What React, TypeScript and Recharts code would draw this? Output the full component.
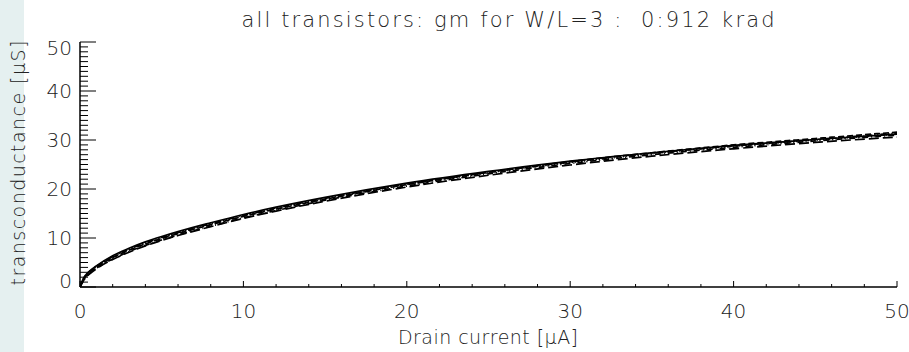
import React from "react";
import { LineChart, Line, XAxis, YAxis } from "recharts";

const current = [0, 0.25, 0.5, 1, 2, 3, 4, 5, 6, 8, 10, 12, 15, 20, 25, 30, 35, 40, 45, 50];
const gmSolid = [0, 2.0, 3.0, 4.3, 6.4, 7.9, 9.2, 10.3, 11.3, 13.1, 14.8, 16.3, 18.3, 21.2, 23.6, 25.7, 27.4, 28.9, 30.1, 31.2];
const gmDash = [0, 1.7, 2.7, 4.0, 6.0, 7.5, 8.8, 9.9, 10.9, 12.7, 14.4, 15.9, 17.9, 20.9, 23.4, 25.6, 27.4, 29.0, 30.3, 31.6];
const gmDashDot = [0, 1.6, 2.5, 3.8, 5.7, 7.2, 8.5, 9.6, 10.6, 12.4, 14.1, 15.6, 17.7, 20.6, 23.1, 25.2, 27.0, 28.5, 29.8, 31.0];
const gmDot = [0, 1.8, 2.8, 4.1, 6.1, 7.6, 8.9, 10.0, 11.0, 12.8, 14.5, 16.0, 18.0, 20.9, 23.3, 25.4, 27.2, 28.7, 30.0, 31.2];
const gmLongDash = [0, 1.5, 2.4, 3.7, 5.6, 7.1, 8.4, 9.5, 10.5, 12.3, 14.0, 15.5, 17.5, 20.4, 22.8, 24.9, 26.7, 28.2, 29.5, 30.6];
const gmDashDotDot = [0, 1.9, 2.9, 4.2, 6.2, 7.7, 9.0, 10.1, 11.1, 12.9, 14.6, 16.1, 18.1, 21.0, 23.4, 25.5, 27.3, 28.8, 30.1, 31.4];

const xTicks = Array.from({ length: 26 }, (_, i) => i * 2);
const yTicks = Array.from({ length: 51 }, (_, i) => i);

const seriesDefs = [
  { key: "s1", values: gmSolid, dash: undefined },
  { key: "s2", values: gmDash, dash: "6 3" },
  { key: "s3", values: gmDashDot, dash: "6 3 1 3" },
  { key: "s4", values: gmDot, dash: "1 2" },
  { key: "s5", values: gmLongDash, dash: "10 4" },
  { key: "s6", values: gmDashDotDot, dash: "6 2 1 2 1 2" },
];

const data = current.map((c, i) => {
  const row: Record<string, number> = { I: c };
  seriesDefs.forEach((s) => (row[s.key] = s.values[i]));
  return row;
});

const FONT = "'DejaVu Sans', sans-serif";
const TXT = "#222";

const BottomTick = (props: any) => {
  const { x, y, payload } = props;
  const v = payload.value;
  const major = v % 10 === 0;
  return (
    <g>
      <line x1={x} x2={x} y1={y} y2={y - (major ? 6 : 3)} stroke="#000" strokeWidth={1} />
      {major && (
        <text x={x} y={y + 25} textAnchor="middle" dominantBaseline="middle" fontFamily={FONT} fontSize={20} fill={TXT} fontWeight={300}>
          {v}
        </text>
      )}
    </g>
  );
};

const TopTick = (props: any) => {
  const { x, y, payload } = props;
  const major = payload.value % 10 === 0;
  return <line x1={x} x2={x} y1={y} y2={y + (major ? 6 : 3)} stroke="#000" strokeWidth={1} />;
};

const LeftTick = (props: any) => {
  const { x, y, payload } = props;
  const v = payload.value;
  const major = v % 10 === 0;
  const dy = v === 0 ? -5 : v === 50 ? 7 : 1;
  return (
    <g>
      <line x1={x} x2={x + (major ? 16 : 8)} y1={y} y2={y} stroke="#000" strokeWidth={1} />
      {major && (
        <text x={x - 8} y={y + dy} textAnchor="end" dominantBaseline="middle" fontFamily={FONT} fontSize={20} fill={TXT} fontWeight={300}>
          {v}
        </text>
      )}
    </g>
  );
};

const RightTick = (props: any) => {
  const { x, y, payload } = props;
  const major = payload.value % 10 === 0;
  return <line x1={x} x2={x - (major ? 16 : 8)} y1={y} y2={y} stroke="#000" strokeWidth={1} />;
};

export default function App() {
  return (
    <div style={{ position: "absolute", left: 0, top: 0, width: 909, height: 352, background: "#fff", overflow: "hidden" }}>
      <div style={{ position: "absolute", left: 0, top: 0, width: 24, height: 352, background: "#e5f0f0" }} />
      <div style={{ position: "absolute", left: 0, top: 0 }}>
        <LineChart width={909} height={352} data={data} margin={{ top: 42, right: 12, bottom: 35, left: 30 }}>
          <XAxis
            xAxisId={0}
            dataKey="I"
            type="number"
            domain={[0, 50]}
            ticks={xTicks}
            interval={0}
            height={30}
            tickSize={0}
            tickMargin={0}
            tickLine={false}
            axisLine={{ stroke: "#000", strokeWidth: 1.5 }}
            tick={<BottomTick />}
            allowDataOverflow
          />
          <XAxis
            xAxisId="top"
            orientation="top"
            dataKey="I"
            type="number"
            domain={[0, 50]}
            ticks={xTicks}
            interval={0}
            height={0}
            tickSize={0}
            tickMargin={0}
            tickLine={false}
            axisLine={{ stroke: "#000", strokeWidth: 1 }}
            tick={<TopTick />}
          />
          <YAxis
            yAxisId={0}
            type="number"
            domain={[0, 50]}
            ticks={yTicks}
            interval={0}
            width={50}
            tickSize={0}
            tickMargin={0}
            tickLine={false}
            axisLine={{ stroke: "#000", strokeWidth: 1.5 }}
            tick={<LeftTick />}
            allowDataOverflow
          />
          <YAxis
            yAxisId="right"
            orientation="right"
            type="number"
            domain={[0, 50]}
            ticks={yTicks}
            interval={0}
            width={0}
            tickSize={0}
            tickMargin={0}
            tickLine={false}
            axisLine={{ stroke: "#000", strokeWidth: 1.5 }}
            tick={<RightTick />}
          />
          {seriesDefs.map((s) => (
            <Line
              key={s.key}
              xAxisId={0}
              yAxisId={0}
              dataKey={s.key}
              type="monotone"
              stroke="#000"
              strokeWidth={1.7}
              strokeDasharray={s.dash}
              dot={false}
              isAnimationActive={false}
            />
          ))}
        </LineChart>
      </div>
      <svg width={909} height={352} style={{ position: "absolute", left: 0, top: 0, pointerEvents: "none" }}>
        <text
          x={508}
          y={21}
          textAnchor="middle"
          dominantBaseline="middle"
          fontFamily={FONT}
          fontSize={21}
          fill={TXT}
          fontWeight={300}
          textLength={533}
          lengthAdjust="spacing"
          style={{ whiteSpace: "pre" }}
        >
          {"all transistors: gm for W/L=3 :  0:912 krad"}
        </text>
        <text
          x={488}
          y={338}
          textAnchor="middle"
          dominantBaseline="middle"
          fontFamily={FONT}
          fontSize={19}
          fill={TXT}
          fontWeight={300}
          textLength={180}
          lengthAdjust="spacing"
        >
          Drain current [μA]
        </text>
        <text
          x={19}
          y={163}
          textAnchor="middle"
          dominantBaseline="middle"
          fontFamily={FONT}
          fontSize={19}
          fill={TXT}
          fontWeight={300}
          textLength={245}
          lengthAdjust="spacing"
          transform="rotate(-90 19 163)"
        >
          transconductance [μS]
        </text>
      </svg>
    </div>
  );
}
